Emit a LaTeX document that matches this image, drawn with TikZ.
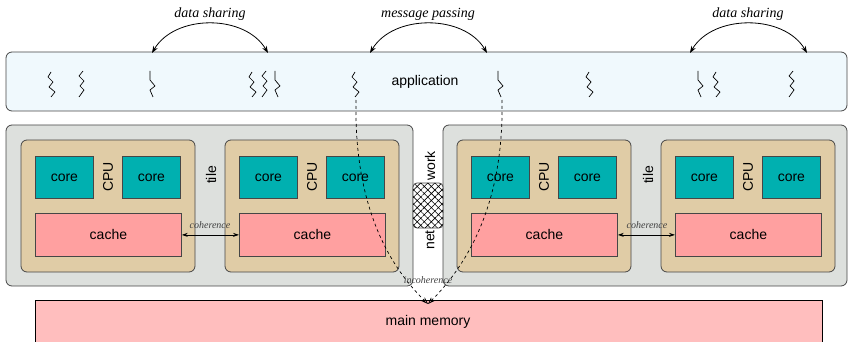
\documentclass[tikz,border=0pt]{standalone}
\usepackage{fontspec}
\setmainfont{Liberation Sans}
\newfontfamily\lblfont{Liberation Serif}
\usetikzlibrary{arrows.meta,patterns.meta}
\definecolor{appfill}{RGB}{240,249,253}
\definecolor{grayfill}{RGB}{221,224,221}
\definecolor{tilefill}{RGB}{224,204,166}
\definecolor{corefill}{RGB}{0,176,176}
\definecolor{cachefill}{RGB}{255,160,160}
\definecolor{memfill}{RGB}{255,190,190}
\definecolor{edge}{RGB}{70,70,70}
\tikzset{
  box/.style={draw=edge, line width=0.8pt, rounded corners=6pt},
  corebox/.style={draw=edge, line width=0.8pt, fill=corefill},
  cachebox/.style={draw=edge, line width=0.8pt, fill=cachefill},
  txt/.style={font=\fontsize{14}{16}\selectfont, inner sep=0pt},
  rtxt/.style={txt, rotate=90},
  lbl/.style={font=\lblfont\itshape\fontsize{14}{16}\selectfont, inner sep=0pt},
  slbl/.style={font=\lblfont\itshape\fontsize{10}{11}\selectfont, inner sep=0pt, text=black!75},
  arc/.style={line width=0.8pt, {Stealth[length=7pt,width=5pt]}-{Stealth[length=7pt,width=5pt]}},
  coh/.style={line width=0.8pt, {Stealth[length=6pt,width=4pt]}-{Stealth[length=6pt,width=4pt]}},
  dsh/.style={dashed, line width=0.7pt, -{Stealth[length=7pt,width=5pt,open]}},
  thr/.style={line width=0.7pt, line join=round},
}
\newcommand{\thrA}[2]{\draw[thr] (#1-1,72) -- (#1-4,77) -- (#1+1,82) -- (#1-3,87) -- (#1+3,92) -- (#1-1,97);}
\newcommand{\thrB}[2]{\draw[thr] (#1+1,71) -- (#1-3,76) -- (#1+2,81) -- (#1-2,86) -- (#1+2,90) -- (#1-3,97);}
\newcommand{\thrC}[2]{\draw[thr] (#1-2,71) -- (#1-2,80) -- (#1+3,86) -- (#1-2,90) -- (#1+1,97);}
\begin{document}
\begin{tikzpicture}[x=1pt,y=-1pt]
\useasboundingbox (0,0) rectangle (849,342);
% application
\draw[box, fill=appfill] (6,52) rectangle (847,111);
\node[txt] (app) at (425,82) {application};
% threads
\thrA{52}{}
\thrB{82}{}
\thrC{152}{}
\thrA{253}{}
\thrB{265}{}
\thrC{277}{}
\thrA{356}{}
\thrC{500}{}
\thrA{590}{}
\thrC{700}{}
\thrA{717}{}
\thrB{792}{}
% top arcs
\coordinate (ds1a) at (152,53);
\coordinate (ds1b) at (268,53);
\coordinate (mpa) at (370,53);
\coordinate (mpb) at (487,53);
\coordinate (ds2a) at (690,53);
\coordinate (ds2b) at (807,53);
\draw[arc] (ds1a) .. controls (175,14) and (245,14) .. (ds1b);
\draw[arc] (mpa) .. controls (393,14) and (464,14) .. (mpb);
\draw[arc] (ds2a) .. controls (713,14) and (784,14) .. (ds2b);
\node[lbl] (l1) at (210,14) {data sharing};
\node[lbl] (l2) at (428,14) {message passing};
\node[lbl] (l3) at (748,14) {data sharing};
% chips
\draw[box, fill=grayfill] (6,125) rectangle (413,286);
\draw[box, fill=grayfill] (443,125) rectangle (847,286);
% tiles
\foreach \x/\n in {21/1,225/2,457/3,661/4}{
  \draw[box, fill=tilefill] (\x,140) rectangle ++(174,132);
  \node[corebox, minimum width=58pt, minimum height=42pt, txt, anchor=north west] (ca\n) at (\x+14,156) {core};
  \node[corebox, minimum width=58pt, minimum height=42pt, txt, anchor=north west] (cb\n) at (\x+101,156) {core};
  \node[cachebox, minimum width=146pt, minimum height=43pt, txt, anchor=north west] (cc\n) at (\x+14,213) {cache};
  \node[rtxt] (cpu\n) at (\x+87,177) {CPU};
}
\node[rtxt] (tile1) at (211,175) {tile};
\node[rtxt] (tile2) at (648,175) {tile};
% coherence
\draw[coh] (cc1.east) -- (cc2.west);
\draw[coh] (cc3.east) -- (cc4.west);
\node[slbl] (coh1) at (210,225) {coherence};
\node[slbl] (coh2) at (647,225) {coherence};
% network
\node[draw=edge, line width=0.8pt, rounded corners=4pt, minimum width=30pt, minimum height=45pt, inner sep=0pt,
      fill=white, postaction={pattern={Hatch[angle=45,distance=5pt,line width=0.6pt]}}] (net) at (428,205.5) {};
\node[rtxt, anchor=west] (work) at (430,181) {work};
\node[rtxt, anchor=east] (netl) at (430,230) {net};
% main memory
\draw[line width=0.8pt, fill=memfill] (35,300) rectangle (822,350);
\node[txt] (mem) at (428,322) {main memory};
\coordinate (memtop) at (428,304);
\coordinate (t1) at (356,100);
\coordinate (t2) at (502,100);
\draw[dsh] (t1) .. controls (354,200) and (385,262) .. (memtop);
\draw[dsh] (t2) .. controls (504,200) and (470,262) .. (memtop);
\node[slbl] (incoh) at (428,280) {incoherence};
\end{tikzpicture}
\end{document}
